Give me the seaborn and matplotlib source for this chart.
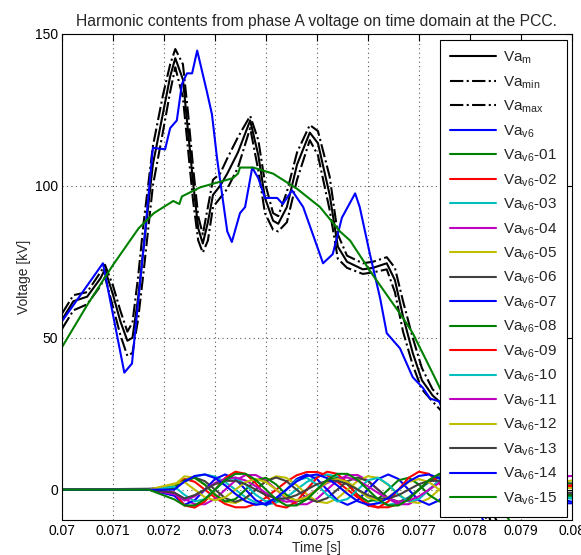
import numpy as np
import pandas as pd
import matplotlib
matplotlib.use('Agg')
import matplotlib.pyplot as plt
import seaborn as sns

# ---- main curves (time in s, voltage in kV) ----
t_m = [0.07000, 0.07022, 0.07049, 0.07075, 0.07084, 0.07100, 0.07114, 0.07128, 0.07138, 0.07149,
       0.07160, 0.07178, 0.07198, 0.07212, 0.07222, 0.07237, 0.07247, 0.07257, 0.07267, 0.07276,
       0.07286, 0.07296, 0.07310, 0.07324, 0.07345, 0.07369, 0.07385, 0.07398, 0.07414, 0.07424,
       0.07441, 0.07461, 0.07486, 0.07502, 0.07525, 0.07541, 0.07559, 0.07590, 0.07610, 0.07637,
       0.07653, 0.07669, 0.07688, 0.07706, 0.07727, 0.07760, 0.07800, 0.07840, 0.07900, 0.08000]
va_m = [56, 62, 63.5, 69.5, 72.5, 64, 55.5, 49, 50, 63,
        80, 107, 124, 136, 142, 135, 118, 101, 86, 81,
        88, 97, 100, 104, 111, 121.5, 110, 96, 88.5, 87.5,
        93, 107, 117.5, 114, 97, 80, 75, 72.5, 73, 74.5,
        69, 57, 45, 36, 31, 26, 12, -10, -30, -60]
va_max = [58, 64, 65, 71.5, 74, 67, 59, 52, 55, 70,
          88, 113, 130, 140, 145, 140, 124, 106, 90, 84,
          93, 102, 104, 109, 116, 123, 115, 101, 91, 90,
          98, 111, 120, 118, 103, 84, 77, 74.5, 75, 76.5,
          73, 62, 50, 40, 33, 28, 15, -6, -26, -56]
va_min = [53, 59, 61, 67, 70, 60, 51, 44, 45, 56,
          72, 100, 118, 131, 139, 129, 112, 95, 82, 78,
          82, 93, 96, 99, 106, 119, 105, 91, 85.5, 85,
          88, 102, 115, 110, 92, 76, 73, 71, 71.5, 72.5,
          65, 52, 41, 33, 29, 23, 9, -14, -34, -64]

t_v6 = [0.07000, 0.07080, 0.07122, 0.07137, 0.07163, 0.07178, 0.07202, 0.07212, 0.07225, 0.07235,
        0.07245, 0.07255, 0.07265, 0.07284, 0.07294, 0.07304, 0.07324, 0.07333, 0.07349, 0.07359,
        0.07373, 0.07385, 0.07398, 0.07422, 0.07433, 0.07451, 0.07473, 0.07492, 0.07512, 0.07531,
        0.07549, 0.07575, 0.07584, 0.07604, 0.07624, 0.07637, 0.07663, 0.07688, 0.07708, 0.07722,
        0.07740, 0.07780, 0.07830, 0.07900, 0.08000]
va_v6 = [55.5, 74.5, 38.5, 41.5, 85, 112.5, 112, 119, 121.5, 133.5,
         137, 137, 144.5, 131, 123.5, 109, 85, 81.5, 91, 93,
         106, 102.5, 96, 96, 94, 98.5, 93, 84, 74.5, 77.5,
         89.5, 97.5, 93, 77.5, 63, 51.5, 46.5, 37, 33.5, 30,
         29, 12, -12, -45, -80]

t_01 = [0.07000, 0.07050, 0.07100, 0.07150, 0.07180, 0.07218, 0.07230, 0.07235, 0.07271, 0.07335,
        0.07345, 0.07349, 0.07375, 0.07414, 0.07461, 0.07506, 0.07545, 0.07565, 0.07604, 0.07669,
        0.07688, 0.07731, 0.07800, 0.07877, 0.07950, 0.08000]
va_v6_01 = [47, 61, 74, 86, 91, 95, 94, 96.5, 99.5, 102.5,
            104, 106, 106, 104, 99, 93, 85, 82, 72, 56.5,
            51.5, 37, 13, -10, -30, -43]

# ---- harmonic components 02..15 on a shared time grid ----
t_h = [0.0700, 0.0717] + list(np.linspace(0.0722, 0.0780, 30)) + [0.0800]
h02 = [0, 0, 1.5, 3.5, 2.6, 0, -2.6, -4.7, -5.8, -5.8, -4.7, -2.6, 0, 2.6, 4.7, 5.8, 5.8, 4.7, 2.6, 0,
       -2.6, -4.7, -5.8, -5.8, -4.7, -2.6, 0, 2.6, 4.7, 5.8, 5.8, 4.7, 1.0]
h03 = [0, 0, 1.0, 2.5, 4.3, 5, 4.3, 2.5, 0, -2.5, -4.3, -5, -4.3, -2.5, 0, 2.5, 4.3, 5, 4.3, 2.5,
       0, -2.5, -4.3, -5, -4.3, -2.5, 0, 2.5, 4.3, 5, 4.3, 2.5, -3.0]
h04 = [0, 0, -1.0, -3, -4.8, -4.8, -3, 0, 3, 4.8, 4.8, 3, 0, -3, -4.8, -4.8, -3, 0, 3, 4.8,
       4.8, 3, 0, -3, -4.8, -4.8, -3, 0, 3, 4.8, 4.8, 3, 2.0]
h05 = [0, 0, 1.5, 4.4, 3.9, 1.5, -1.5, -3.9, -4.4, -2.9, 0, 2.9, 4.4, 3.9, 1.5, -1.5, -3.9, -4.4, -2.9, 0,
       2.9, 4.4, 3.9, 1.5, -1.5, -3.9, -4.4, -2.9, 0, 2.9, 4.4, 3.9, 0.5]
h06 = [0, 0.3, 0.8, 2.8, 4, 2.8, 0, -2.8, -4, -2.8, 0, 2.8, 4, 2.8, 0, -2.8, -4, -2.8, 0, 2.8,
       4, 2.8, 0, -2.8, -4, -2.8, 0, 2.8, 4, 2.8, 0, -2.8, -1.5]
h07 = [0, 0, -2.0, -5, -3.5, 0, 3.5, 5, 3.5, 0, -3.5, -5, -3.5, 0, 3.5, 5, 3.5, 0, -3.5, -5,
       -3.5, 0, 3.5, 5, 3.5, 0, -3.5, -5, -3.5, 0, 3.5, 5, -4.0]
h08 = [0, 0, 0.5, 3.1, 3.9, 1.7, -1.7, -3.9, -3.1, 0, 3.1, 3.9, 1.7, -1.7, -3.9, -3.1, 0, 3.1, 3.9, 1.7,
       -1.7, -3.9, -3.1, 0, 3.1, 3.9, 1.7, -1.7, -3.9, -3.1, 0, 3.1, 2.0]
h09 = [0, 0, -1.0, -5.2, -5.9, -3.9, 0, 3.9, 5.9, 5.2, 2.1, -2.1, -5.2, -5.9, -3.9, 0, 3.9, 5.9, 5.2, 2.1,
       -2.1, -5.2, -5.9, -3.9, 0, 3.9, 5.9, 5.2, 2.1, -2.1, -5.2, -5.9, 1.5]
h10 = [0, 0, 1.0, -1.7, -3.9, -3.1, 0, 3.1, 3.9, 1.7, -1.7, -3.9, -3.1, 0, 3.1, 3.9, 1.7, -1.7, -3.9, -3.1,
       0, 3.1, 3.9, 1.7, -1.7, -3.9, -3.1, 0, 3.1, 3.9, 1.7, -1.7, -2.5]
h11 = [0, 0, -1.5, -3.6, -2.2, 0, 2.2, 3.6, 4.0, 3.0, 1.1, -1.1, -3.0, -4.0, -3.6, -2.2, 0, 2.2, 3.6, 4.0,
       3.0, 1.1, -1.1, -3.0, -4.0, -3.6, -2.2, 0, 2.2, 3.6, 4.0, 3.0, 4.5]
h12 = [0, 0, 2.0, 2.5, 0, -2.5, -3.5, -2.5, 0, 2.5, 3.5, 2.5, 0, -2.5, -3.5, -2.5, 0, 2.5, 3.5, 2.5,
       0, -2.5, -3.5, -2.5, 0, 2.5, 3.5, 2.5, 0, -2.5, -3.5, -2.5, 3.0]
h13 = [0, 0, -1.0, -2.9, -1.8, 0, 1.8, 2.9, 2.9, 1.8, 0, -1.8, -2.9, -2.9, -1.8, 0, 1.8, 2.9, 2.9, 1.8,
       0, -1.8, -2.9, -2.9, -1.8, 0, 1.8, 2.9, 2.9, 1.8, 0, -1.8, -1.0]
h14 = [0, 0, 0, 2.7, 4.5, 5, 3.8, 1.4, -1.4, -3.8, -5, -4.5, -2.7, 0, 2.7, 4.5, 5, 3.8, 1.4, -1.4,
       -3.8, -5, -4.5, -2.7, 0, 2.7, 4.5, 5, 3.8, 1.4, -1.4, -3.8, -4.5]
h15 = [0, 0, -3.2, -5.2, -5.2, -3.2, 0, 3.2, 5.2, 5.2, 3.2, 0, -3.2, -5.2, -5.2, -3.2, 0, 3.2, 5.2, 5.2,
       3.2, 0, -3.2, -5.2, -5.2, -3.2, 0, 3.2, 5.2, 5.2, 3.2, 0, -2.0]
harmonics = [h02, h03, h04, h05, h06, h07, h08, h09, h10, h11, h12, h13, h14, h15]
harm_labels = ['02', '03', '04', '05', '06', '07', '08', '09', '10', '11', '12', '13', '14', '15']

xticks = [0.070, 0.071, 0.072, 0.073, 0.074, 0.075, 0.076, 0.077, 0.078, 0.079, 0.080]
xtick_labels = ['0.07', '0.071', '0.072', '0.073', '0.074', '0.075', '0.076', '0.077', '0.078', '0.079', '0.08']
yticks = [0, 50, 100, 150]

# old matlab colour order
colors = [(0, 0, 1), (0, 0.5, 0), (1, 0, 0), (0, 0.75, 0.75),
          (0.75, 0, 0.75), (0.75, 0.75, 0), (0.25, 0.25, 0.25)]

sns.set_style('white')
plt.rcParams['font.family'] = ['Liberation Sans', 'DejaVu Sans']
plt.rcParams['mathtext.default'] = 'regular'

fig, ax = plt.subplots(figsize=(5.81, 5.55), dpi=100)
fig.subplots_adjust(left=0.107, right=0.984, bottom=0.063, top=0.939)

lw = 1.5
sns.lineplot(x=t_m, y=va_m, ax=ax, color='k', lw=lw, sort=False, label=r'Va$_{m}$')
sns.lineplot(x=t_m, y=va_min, ax=ax, color='k', lw=lw, linestyle='-.', sort=False, label=r'Va$_{min}$')
sns.lineplot(x=t_m, y=va_max, ax=ax, color='k', lw=lw, linestyle='-.', sort=False, label=r'Va$_{max}$')
sns.lineplot(x=t_v6, y=va_v6, ax=ax, color=colors[0], lw=lw, sort=False, label=r'Va$_{v6}$')
sns.lineplot(x=t_01, y=va_v6_01, ax=ax, color=colors[1], lw=lw, sort=False, label=r'Va$_{v6}$-01')
for i, (vals, lab) in enumerate(zip(harmonics, harm_labels)):
    sns.lineplot(x=t_h, y=vals, ax=ax, color=colors[(i + 2) % 7], lw=lw, sort=False,
                 label=r'Va$_{v6}$-' + lab)

ax.set_xlim(0.07, 0.08)
ax.set_ylim(-10, 150)
ax.set_xticks(xticks)
ax.set_xticklabels(xtick_labels)
ax.set_yticks(yticks)
ax.tick_params(direction='in', top=True, right=True, length=5, width=0.8,
               labelsize=10, colors='k', pad=3)
ax.grid(True, linestyle=(0, (1, 3)), color='0.35', linewidth=0.8)
for s in ax.spines.values():
    s.set_color('k')
    s.set_linewidth(0.8)

ax.set_title('Harmonic contents from phase A voltage on time domain at the PCC.', fontsize=11.3, pad=6)
ax.set_xlabel('Time [s]', fontsize=10, labelpad=2)
ax.set_ylabel('Voltage [kV]', fontsize=10, labelpad=3)

leg = ax.legend(loc='upper right', bbox_to_anchor=(0.99, 0.988), borderaxespad=0,
                fontsize=11, handlelength=3.0, handletextpad=0.45, labelspacing=0.53,
                frameon=True, fancybox=False, framealpha=1, edgecolor='k', borderpad=0.65)
leg.get_frame().set_linewidth(0.8)

fig.savefig('out.png', dpi=100)
